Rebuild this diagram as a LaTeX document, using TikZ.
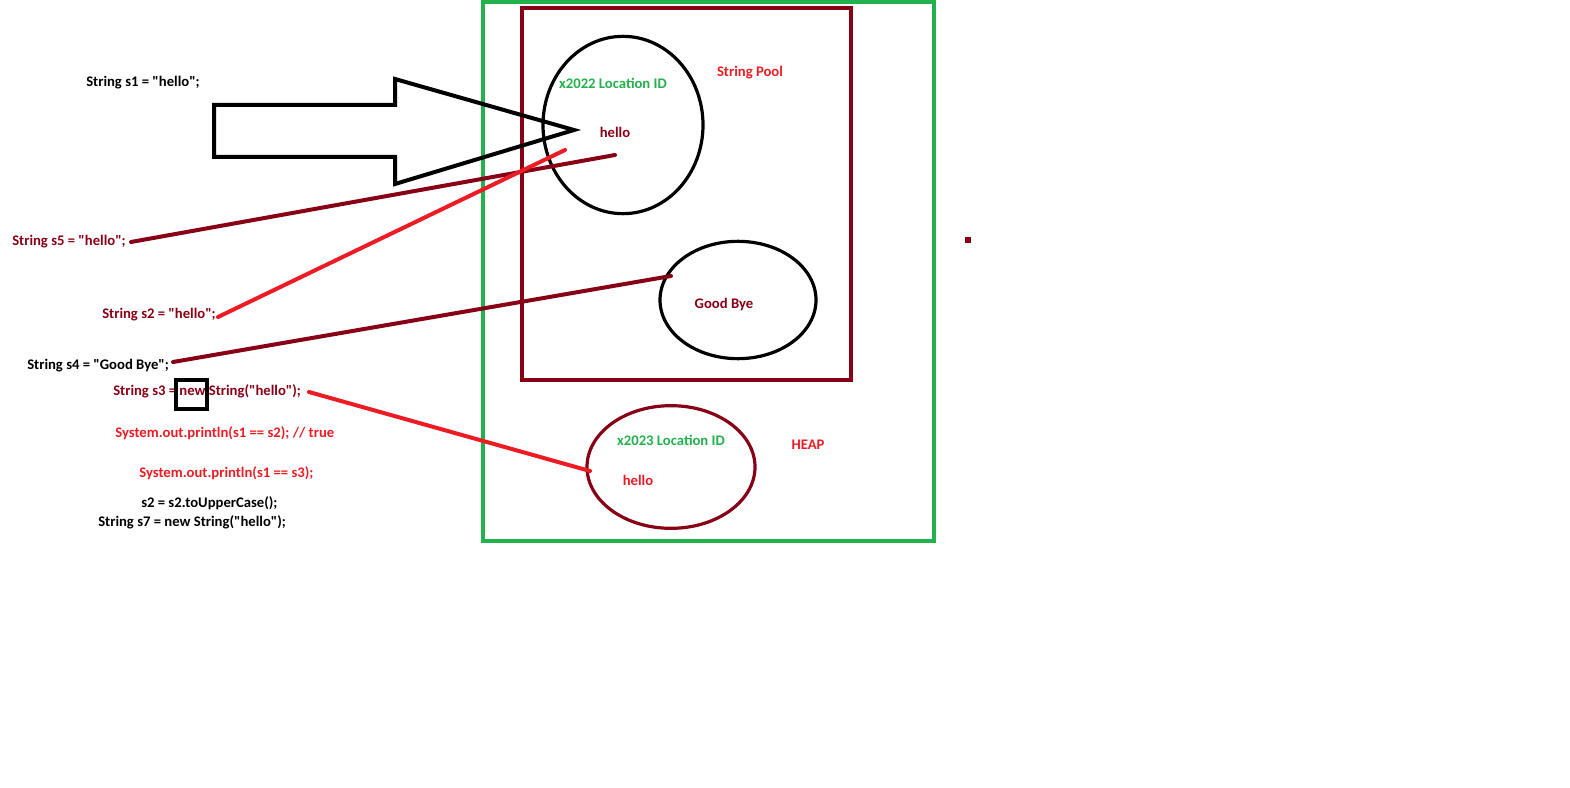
\documentclass[tikz,border=0pt]{standalone}
\usepackage{fontspec}
\setmainfont{Carlito}
\usetikzlibrary{shapes.geometric}
\definecolor{pdred}{HTML}{880015}
\definecolor{pred}{HTML}{ED1C24}
\definecolor{pgreen}{HTML}{22B14C}
\newcommand{\qq}{\textquotedbl}
\tikzset{
  code/.style={anchor=west, inner sep=0pt, yshift=-1.2pt, font=\fontsize{11}{12}\selectfont\bfseries},
  lbl/.style={inner sep=0pt, yshift=-1.2pt, font=\fontsize{11}{12}\selectfont\bfseries},
  fat/.style={line width=3pt},
  blob/.style={draw, ellipse, line width=2.4pt, inner sep=0pt},
}
\begin{document}
\begin{tikzpicture}[x=0.75pt,y=-0.75pt]
\useasboundingbox (0,0) rectangle (1570,788);
% frames
\draw[pgreen, fat] (483,2) rectangle (934,541);
\draw[pdred, fat] (522,8) rectangle (851,380);
% ellipses
\node[blob, black, minimum width=120pt, minimum height=133pt] (pool1) at (623,125) {};
\node[blob, black, minimum width=117pt, minimum height=88pt] (pool2) at (738,300) {};
\node[blob, pdred, minimum width=126pt, minimum height=92pt] (heap1) at (671,467) {};
% labels in memory
\node[lbl, pgreen] (loc1) at (613,82) {x2022 Location ID};
\node[lbl, pred] (spool) at (750,71) {String Pool};
\node[lbl, pdred] (h1) at (615,131) {hello};
\node[lbl, pdred] (gb) at (724,303) {Good Bye};
\node[lbl, pgreen] (loc2) at (671,439) {x2023 Location ID};
\node[lbl, pred] (heap) at (808,443) {HEAP};
\node[lbl, pred] (h2) at (638,479) {hello};
\fill[pdred] (965,237) rectangle (971,243);
% code
\node[code, black] (s1) at (86,81) {String s1 = \qq hello\qq;};
\node[code, pdred] (s5) at (12,240) {String s5 = \qq hello\qq;};
\node[code, pdred] (s2) at (102,313) {String s2 = \qq hello\qq;};
\node[code, black] (s4) at (27,364) {String s4 = \qq Good Bye\qq;};
\node[code, pdred] (s3) at (113,390) {String s3 = new String(\qq hello\qq);};
\node[code, pred] (p1) at (115,432) {System.out.println(s1 == s2); // true};
\node[code, pred] (p2) at (139,472) {System.out.println(s1 == s3);};
\node[code, black] (up) at (141,502) {s2 = s2.toUpperCase();};
\node[code, black] (s7) at (98,521) {String s7 = new String(\qq hello\qq);};
\draw[black, line width=2.4pt] (176,380) rectangle (207,409);
% big arrow
\draw[black, fat, line join=miter] (214,105) -- (395,105) -- (395,79) -- (574,130) -- (395,184) -- (395,157) -- (214,157) -- cycle;
% connectors
\coordinate (e5) at (615,155);
\coordinate (e2) at (565,150);
\coordinate (e4) at (671,276);
\coordinate (e3) at (590,471);
\coordinate (b5) at (131,242);
\coordinate (b2) at (218,317);
\coordinate (b4) at (173,362);
\coordinate (b3) at (309,392);
\draw[pdred, fat, line cap=round] (b5) -- (e5);
\draw[pred, fat, line cap=round] (b2) -- (e2);
\draw[pdred, fat, line cap=round] (b4) -- (e4);
\draw[pred, fat, line cap=round] (b3) -- (e3);
\end{tikzpicture}
\end{document}
